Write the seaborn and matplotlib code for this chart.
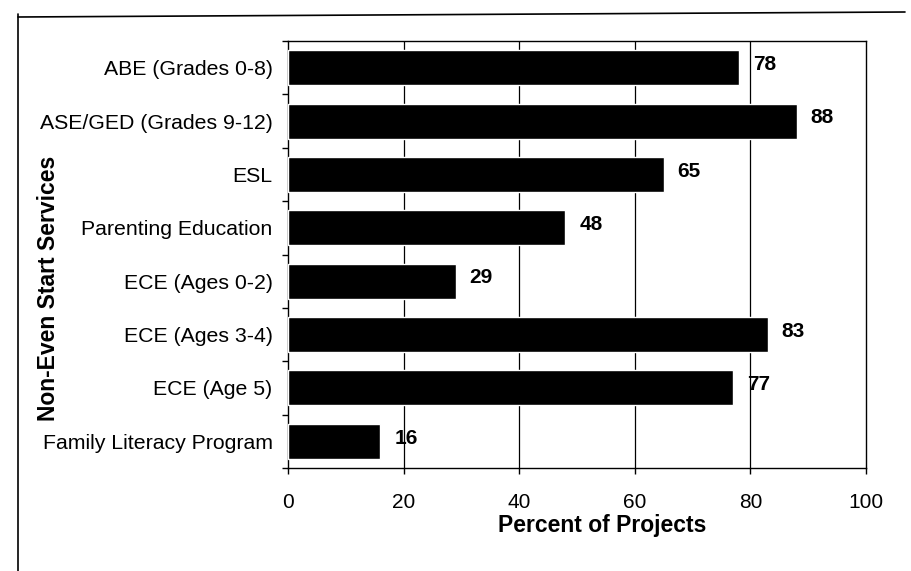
import matplotlib
matplotlib.use("Agg")
import matplotlib.pyplot as plt
import seaborn as sns
import pandas as pd
from matplotlib.ticker import FixedLocator

categories = ["ABE (Grades 0-8)", "ASE/GED (Grades 9-12)", "ESL", "Parenting Education",
              "ECE (Ages 0-2)", "ECE (Ages 3-4)", "ECE (Age 5)", "Family Literacy Program"]
values = [78, 88, 65, 48, 29, 83, 77, 16]
xticks = [0, 20, 40, 60, 80, 100]

sns.set_theme(style="white")
plt.rcParams['font.family'] = ['Liberation Sans', 'DejaVu Sans']

df = pd.DataFrame({"service": categories, "pct": values})

L, R, T, B = 288, 866, 41, 468
fig = plt.figure(figsize=(9.12, 5.71), dpi=100)
ax = fig.add_axes([L/912, 1-B/571, (R-L)/912, (B-T)/571])

sns.barplot(data=df, y="service", x="pct", color="black", orient="h", width=0.655,
            ax=ax, zorder=3, saturation=1)

ax.set_xlim(0, 100)
ax.set_ylim(len(categories)-0.5, -0.5)
ax.set_xticks(xticks)
ax.set_xticklabels([str(t) for t in xticks], fontsize=15)
ax.tick_params(axis='x', direction='out', length=4, width=1, color='black', pad=14, bottom=True)
ax.tick_params(axis='y', which='major', length=0, pad=11, labelsize=15.3)
ax.yaxis.set_minor_locator(FixedLocator([i + 0.5 for i in range(-1, len(categories))]))
ax.tick_params(axis='y', which='minor', direction='out', length=4, width=1, color='black', left=True)
for t in ax.get_yticklabels():
    t.set_color('black')
for t in ax.get_xticklabels():
    t.set_color('black')

for x in xticks[1:-1]:
    ax.axvline(x, color='black', lw=0.9, zorder=1)

for s in ax.spines.values():
    s.set_visible(True)
    s.set_color('black')
    s.set_linewidth(1.0)

for i, v in enumerate(values):
    ax.text(v + 2.4, i - 0.06, str(v), va='center', ha='left', fontsize=15,
            fontweight='bold', color='black')

ax.set_xlabel("Percent of Projects", fontsize=16.5, fontweight='bold', color='black')
ax.xaxis.set_label_coords((602 - L) / (R - L), -(537 - B) / (B - T), transform=ax.transAxes)
ax.xaxis.label.set_va('bottom')
ax.set_ylabel("Non-Even Start Services", fontsize=16.5, fontweight='bold', color='black')
ax.yaxis.set_label_coords(-(L - 60) / (R - L), (B - 288) / (B - T))

# outer frame lines of the scanned figure
fig.add_artist(plt.Line2D([18/912, 18/912], [0, 1-14/571], color='black', lw=1.2))
fig.add_artist(plt.Line2D([18/912, 905/912], [1-17/571, 1-12/571], color='black', lw=1.2))

fig.savefig("out.png", dpi=100, facecolor='white')
